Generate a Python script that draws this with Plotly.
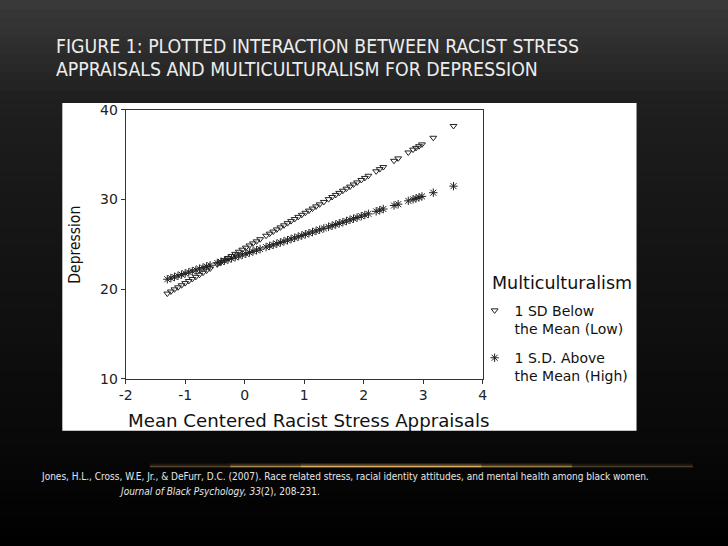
import plotly.graph_objects as go

W, H = 728, 546

# ---- data ----
x_vals = [-1.30, -1.24, -1.18, -1.12, -1.06, -1.00, -0.94, -0.88, -0.82, -0.76, -0.70, -0.64, -0.58,
          -0.46, -0.40, -0.34, -0.28, -0.22, -0.16, -0.10, -0.04, 0.02, 0.08, 0.14, 0.20, 0.26,
          0.36, 0.42, 0.48, 0.54, 0.60, 0.66, 0.72, 0.78, 0.84, 0.90, 0.96, 1.02, 1.08, 1.14, 1.20, 1.26, 1.33,
          1.41, 1.47, 1.53, 1.59, 1.65, 1.71, 1.77, 1.83, 1.89,
          1.96, 2.02, 2.08,
          2.21, 2.27, 2.33,
          2.51, 2.58, 2.75, 2.83, 2.88, 2.93, 2.98, 3.17, 3.51]

low_vals = [19.50, 19.73, 19.97, 20.20, 20.43, 20.67, 20.90, 21.13, 21.37, 21.60, 21.83, 22.07, 22.30,
            22.77, 23.00, 23.23, 23.47, 23.70, 23.93, 24.17, 24.40, 24.63, 24.87, 25.10, 25.33, 25.57,
            25.96, 26.19, 26.42, 26.66, 26.89, 27.12, 27.36, 27.59, 27.82, 28.06, 28.29, 28.52, 28.76, 28.99, 29.23, 29.46, 29.73,
            30.04, 30.28, 30.51, 30.74, 30.98, 31.21, 31.44, 31.68, 31.91,
            32.18, 32.41, 32.65,
            33.15, 33.39, 33.62,
            34.32, 34.59, 35.25, 35.57, 35.76, 35.95, 36.15, 36.89, 38.21]

high_vals = [21.10, 21.23, 21.36, 21.49, 21.62, 21.75, 21.88, 22.01, 22.14, 22.27, 22.40, 22.53, 22.66,
             22.91, 23.04, 23.17, 23.30, 23.43, 23.56, 23.69, 23.82, 23.95, 24.08, 24.21, 24.34, 24.47,
             24.69, 24.82, 24.95, 25.07, 25.20, 25.33, 25.46, 25.59, 25.72, 25.85, 25.98, 26.11, 26.24, 26.37, 26.50, 26.63, 26.78,
             26.95, 27.08, 27.21, 27.34, 27.47, 27.60, 27.73, 27.86, 27.99,
             28.14, 28.27, 28.40,
             28.68, 28.81, 28.94,
             29.33, 29.48, 29.85, 30.02, 30.13, 30.24, 30.35, 30.76, 31.49]

series_names = ["1 SD Below<br>the Mean (Low)", "1 S.D. Above<br>the Mean (High)"]
legend_title = "Multiculturalism"
y_ticks = [10, 20, 30, 40]
x_ticks = [-2, -1, 0, 1, 2, 3, 4]
x_tick_labels = ["-2", "-1", "0", "1", "2", "3", "4"]

title_lines = ["FIGURE 1: PLOTTED INTERACTION BETWEEN RACIST STRESS",
               "APPRAISALS AND MULTICULTURALISM FOR DEPRESSION"]
cite_lines = ["Jones, H.L., Cross, W.E, Jr., & DeFurr, D.C. (2007). Race related stress, racial identity attitudes, and mental health among black women.",
              "<i>Journal of Black Psychology, 33</i>(2), 208-231."]

# the captured picture shows the page inset by ~8px and slightly scaled; compensate
OX, OY, SX, SY = 8.0, 8.0, 0.978, 0.9715


def px(X):
    return ((X - OX) / SX) / W


def py(Y):
    return 1 - ((Y - OY) / SY) / H


NARROW = "Liberation Sans Narrow, Arial Narrow, DejaVu Sans Condensed, sans-serif"
WIDE = "DejaVu Sans, Verdana, sans-serif"

fig = go.Figure()
fig.add_trace(go.Scatter(
    x=x_vals, y=low_vals, mode="markers", name=series_names[0], legendgroup="a",
    marker=dict(symbol="triangle-down-open", size=6, color="#222222", line=dict(width=1, color="#222222"))))
fig.add_trace(go.Scatter(
    x=x_vals, y=high_vals, mode="markers", name=series_names[1], legendgroup="b",
    marker=dict(symbol="asterisk-open", size=7, color="#222222", line=dict(width=1, color="#222222"))))

shapes = []
# background vertical gradient (styling); each band runs to the bottom to avoid seams
stops = [(0, (58, 58, 58)), (60, (42, 42, 42)), (100, (31, 31, 31)), (200, (23, 23, 23)),
         (300, (17, 17, 17)), (400, (11, 11, 11)), (450, (8, 8, 8)), (546, (0, 0, 0))]
nb = 60
for i in range(nb):
    y0 = H * i / nb
    ym = H * (i + 0.5) / nb
    for (a, ca), (b, cb) in zip(stops[:-1], stops[1:]):
        if a <= ym <= b:
            t = (ym - a) / (b - a)
            c = tuple(int(round(ca[k] + (cb[k] - ca[k]) * t)) for k in range(3))
            break
    top = 1.05 if i == 0 else py(y0)
    shapes.append(dict(type="rect", xref="paper", yref="paper", x0=-0.05, x1=1.05, y0=-0.05, y1=top,
                       fillcolor="rgb(%d,%d,%d)" % c, line=dict(width=0), layer="below"))

# glow line
glow = [(150, 230, 0.3), (230, 300, 0.65), (300, 480, 0.95), (480, 570, 0.6), (570, 690, 0.25)]
for a, b, op in glow:
    shapes.append(dict(type="line", xref="paper", yref="paper", x0=px(a), x1=px(b), y0=py(466), y1=py(466),
                       line=dict(color="rgba(214,168,96,%.2f)" % (op * 0.35), width=4), layer="below"))
    shapes.append(dict(type="line", xref="paper", yref="paper", x0=px(a), x1=px(b), y0=py(467), y1=py(467),
                       line=dict(color="rgba(225,180,110,%.2f)" % op, width=1.5), layer="below"))

# white inset of the chart
shapes.append(dict(type="rect", xref="paper", yref="paper", x0=px(63), x1=px(634), y0=py(431), y1=py(103),
                   fillcolor="white", line=dict(width=0), layer="below"))

annotations = []
for i, t in enumerate(title_lines):
    annotations.append(dict(text=t, xref="paper", yref="paper", x=px(55), y=py(47 + 23 * i),
                            xanchor="left", yanchor="middle", showarrow=False,
                            font=dict(family=NARROW, size=19.3, color="#ededed")))
annotations.append(dict(text=cite_lines[0], xref="paper", yref="paper", x=px(40), y=py(477),
                        xanchor="left", yanchor="middle", showarrow=False,
                        font=dict(family=NARROW, size=10, color="#e6e6e6")))
annotations.append(dict(text=cite_lines[1], xref="paper", yref="paper", x=px(117), y=py(492),
                        xanchor="left", yanchor="middle", showarrow=False,
                        font=dict(family=NARROW, size=10, color="#e6e6e6")))
annotations.append(dict(text="Depression", xref="paper", yref="paper", x=px(75.5), y=py(245),
                        xanchor="center", yanchor="middle", showarrow=False, textangle=-90,
                        font=dict(family=NARROW, size=15.5, color="#111111")))
annotations.append(dict(text="Mean Centered Racist Stress Appraisals", xref="paper", yref="paper",
                        x=px(308), y=py(421), xanchor="center", yanchor="middle", showarrow=False,
                        font=dict(family=WIDE, size=18.2, color="#111111")))
annotations.append(dict(text=legend_title, xref="paper", yref="paper", x=px(488), y=py(283),
                        xanchor="left", yanchor="middle", showarrow=False,
                        font=dict(family=WIDE, size=17.5, color="#111111")))

fig.update_layout(
    width=W, height=H, margin=dict(l=0, r=0, t=0, b=0),
    paper_bgcolor="black", plot_bgcolor="rgba(0,0,0,0)",
    shapes=shapes, annotations=annotations,
    showlegend=True,
    legend=dict(x=px(473), y=py(295), xanchor="left", yanchor="top",
                bgcolor="rgba(0,0,0,0)", valign="top", tracegroupgap=8, itemwidth=30,
                font=dict(family=WIDE, size=14, color="#111111")),
    xaxis=dict(domain=[px(126), px(481)], range=[-2, 4], tickvals=x_ticks, ticktext=x_tick_labels,
               showline=True, linecolor="#333333", linewidth=1, mirror=True,
               ticks="outside", ticklen=4, tickcolor="#333333", showgrid=False, zeroline=False,
               tickfont=dict(family=WIDE, size=14, color="#222222")),
    yaxis=dict(domain=[py(379), py(110)], range=[10, 40], tickvals=y_ticks,
               showline=True, linecolor="#333333", linewidth=1, mirror=True,
               ticks="outside", ticklen=4, tickcolor="#333333", showgrid=False, zeroline=False,
               tickfont=dict(family=WIDE, size=14, color="#222222")),
)

post = ("document.documentElement.style.margin='0';document.body.style.margin='0';"
        "document.body.style.padding='0';document.body.style.background='black';"
        "document.documentElement.style.overflow='hidden';"
        "var d=document.getElementsByClassName('plotly-graph-div')[0];"
        "if(d){d.style.position='fixed';d.style.left='0px';d.style.top='0px';}")
fig.write_html("out.html", config={"displayModeBar": False}, post_script=post)
